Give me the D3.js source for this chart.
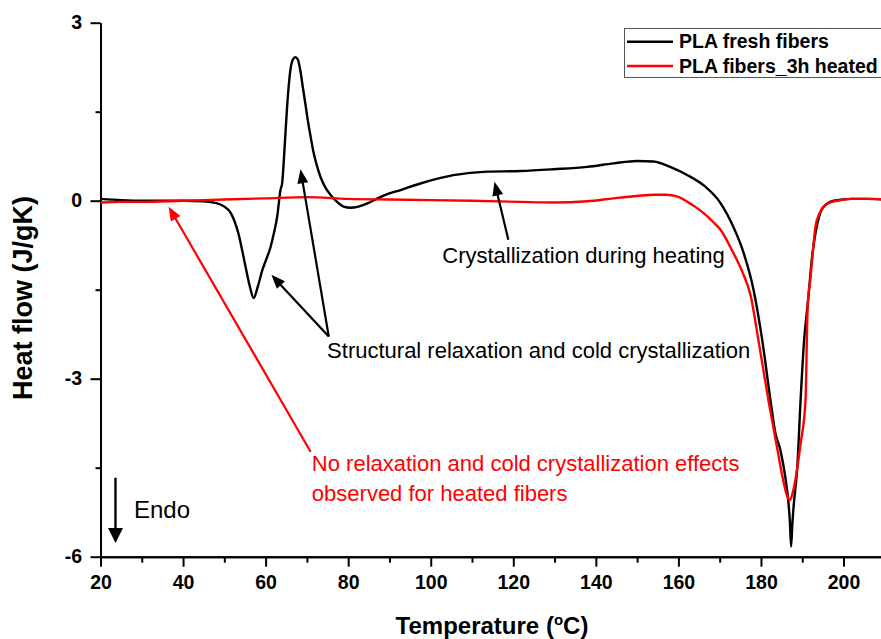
<!DOCTYPE html>
<html><head><meta charset="utf-8">
<script src="https://cdn.jsdelivr.net/npm/d3@7"></script>
<style>
body{margin:0;background:#fff}
svg{display:block}
text{font-family:"Liberation Sans",Arial,Helvetica,sans-serif}
</style>
</head><body>
<svg id="chart" width="881" height="639"></svg>
<script>
// ---------- data ----------
const seriesNames = ["PLA fresh fibers", "PLA fibers_3h heated"];
const seriesColors = ["#000000", "#ff0000"];

const freshT = [20, 25, 30, 35, 40, 45, 48, 50, 51.5, 53.4, 55.1, 56.2, 57.1, 58.1, 59.2, 60.2, 61.2, 62.0, 62.8, 63.6, 64.0, 64.6, 65.2, 66.0, 66.6, 67.2, 67.8, 68.4, 69.0, 69.7, 70.3, 70.9, 71.5, 72.3, 73.3, 74.5, 75.7, 77.0, 78.9, 80.6, 82.5, 84.5, 86.0, 89, 92.7, 97.5, 105.5, 113.7, 121.7, 129.7, 137.9, 144.3, 150, 154, 158, 162.2, 166.1, 170.2, 173.3, 175.8, 178.2, 180.2, 182.3, 183.5, 184.7, 185.9, 186.6, 187.0, 187.3, 187.6, 187.9, 188.8, 189.6, 190.4, 191.5, 192.3, 193.2, 194.4, 195.8, 197.6, 202, 206, 210];
const freshV = [0.03, 0.01, 0.0, 0.0, 0.0, -0.01, -0.04, -0.1, -0.2, -0.55, -1.1, -1.45, -1.64, -1.45, -1.17, -0.98, -0.78, -0.55, -0.27, 0.18, 0.29, 0.9, 1.58, 2.2, 2.38, 2.42, 2.38, 2.2, 1.92, 1.6, 1.32, 1.08, 0.85, 0.62, 0.4, 0.22, 0.1, 0.0, -0.1, -0.12, -0.1, -0.05, 0.0, 0.1, 0.18, 0.29, 0.43, 0.49, 0.5, 0.53, 0.57, 0.63, 0.67, 0.66, 0.57, 0.43, 0.26, -0.04, -0.44, -0.88, -1.5, -2.3, -3.36, -3.92, -4.2, -4.66, -5.05, -5.4, -5.83, -5.45, -5.16, -4.49, -3.36, -2.4, -1.62, -1.0, -0.55, -0.2, -0.06, 0.0, 0.03, 0.03, 0.02];

const heatedT = [20, 25, 30, 40, 50, 60, 70, 80, 90, 100, 110, 121.7, 130, 137.9, 144.3, 150, 154, 157, 159.8, 162.2, 164, 166.1, 168, 170.2, 173.3, 175.5, 177.5, 179.5, 181.8, 184, 185.5, 186.3, 186.9, 187.5, 188.2, 189.6, 190.8, 191.3, 192.0, 193.2, 194.2, 196.3, 199.4, 202, 206, 210];
const heatedV = [-0.03, -0.02, -0.02, 0.0, 0.02, 0.04, 0.06, 0.03, 0.02, 0.01, 0.0, -0.02, -0.03, -0.01, 0.04, 0.08, 0.1, 0.1, 0.07, -0.02, -0.1, -0.21, -0.33, -0.49, -0.88, -1.2, -1.6, -2.4, -3.36, -4.2, -4.75, -4.97, -5.05, -4.97, -4.76, -4.1, -3.36, -1.8, -1.3, -0.44, -0.21, -0.04, 0.01, 0.03, 0.03, 0.02];

const xMajorTicks = [20, 40, 60, 80, 100, 120, 140, 160, 180, 200];
const xMinorTicks = [30, 50, 70, 90, 110, 130, 150, 170, 190];
const yMajorTicks = [-6, -3, 0, 3];
const yMinorTicks = [-4.5, -1.5, 1.5];

const xTitle = "Temperature (";
const yTitle = "Heat flow (J/gK)";

// annotation texts (data-space anchors)
const noteTexts = [
  {text: "Crystallization during heating", t: 102.8, v: -1.05, color: "#000"},
  {text: "Structural relaxation and cold crystallization", t: 74.9, v: -2.65, color: "#000"},
  {text: "No relaxation and cold crystallization effects", t: 71.2, v: -4.55, color: "#ff0000"},
  {text: "observed for heated fibers", t: 71.2, v: -5.06, color: "#ff0000"}
];
// arrows: from (t0,v0) to head (t1,v1)
const noteArrows = [
  {t0: 75.3, v0: -2.29, t1: 61.4, v1: -1.25, color: "#000"},
  {t0: 75.3, v0: -2.29, t1: 68.45, v1: 0.53, color: "#000"},
  {t0: 118.8, v0: -0.66, t1: 115.45, v1: 0.32, color: "#000"},
  {t0: 70.9, v0: -4.23, t1: 36.5, v1: -0.10, color: "#ff0000"}
];
const endoArrow = {t: 23.63, v0: -4.67, v1: -5.77};
const endoText = {text: "Endo", t: 28.1, v: -5.35};

// ---------- drawing ----------
const svg = d3.select("#chart");
svg.append("rect").attr("width", 881).attr("height", 639).attr("fill", "#ffffff");

const x = d3.scaleLinear().domain([20, 210]).range([100.5, 884.8]);
const y = d3.scaleLinear().domain([-6, 3]).range([556.7, 22.7]);

const fmt = d => String(d);

// Y axis
const yAxis = svg.append("g").attr("transform", `translate(${x(20)},0)`);
yAxis.call(d3.axisLeft(y).tickValues(yMajorTicks).tickSize(10).tickSizeOuter(0).tickFormat(fmt));
yAxis.append("g").call(d3.axisLeft(y).tickValues(yMinorTicks).tickSize(5).tickSizeOuter(0).tickFormat(""));
yAxis.selectAll(".domain").attr("stroke-width", 2).attr("stroke", "#000");
yAxis.selectAll(".tick line").attr("stroke-width", 2).attr("stroke", "#000");
yAxis.selectAll(".tick text")
  .style("font-size", "19.5px").style("font-weight", "bold")
  .style("font-family", "'Liberation Sans',Arial,sans-serif")
  .attr("fill", "#000").attr("x", -18.5);

// X axis
const xAxis = svg.append("g").attr("transform", `translate(0,${y(-6)})`);
xAxis.call(d3.axisBottom(x).tickValues(xMajorTicks).tickSize(10).tickSizeOuter(0).tickFormat(fmt));
xAxis.append("g").call(d3.axisBottom(x).tickValues(xMinorTicks).tickSize(6).tickSizeOuter(0).tickFormat(""));
xAxis.selectAll(".domain").attr("stroke-width", 2).attr("stroke", "#000");
xAxis.selectAll(".tick line").attr("stroke-width", 2).attr("stroke", "#000");
xAxis.selectAll(".tick text")
  .style("font-size", "19.5px").style("font-weight", "bold")
  .style("font-family", "'Liberation Sans',Arial,sans-serif")
  .attr("fill", "#000").attr("y", 18);

// Curves
const line = d3.line().x(d => x(d[0])).y(d => y(d[1])).curve(d3.curveMonotoneX);
const series = [d3.zip(freshT, freshV), d3.zip(heatedT, heatedV)];
const plot = svg.append("g");
series.forEach((s, i) => {
  plot.append("path").datum(s).attr("d", line)
    .attr("fill", "none").attr("stroke", seriesColors[i]).attr("stroke-width", 2.4)
    .attr("stroke-linejoin", "round");
});

// Arrows
function arrow(g, x0, y0, x1, y1, color, headLen, headW, sw) {
  const dx = x1 - x0, dy = y1 - y0, L = Math.hypot(dx, dy);
  const ux = dx / L, uy = dy / L;
  const bx = x1 - ux * headLen, by = y1 - uy * headLen;
  g.append("line").attr("x1", x0).attr("y1", y0).attr("x2", bx + ux * 2).attr("y2", by + uy * 2)
    .attr("stroke", color).attr("stroke-width", sw);
  g.append("path")
    .attr("d", `M${x1},${y1}L${bx - uy * headW / 2},${by + ux * headW / 2}L${bx + uy * headW / 2},${by - ux * headW / 2}Z`)
    .attr("fill", color);
}
const ann = svg.append("g");
noteArrows.forEach(a => arrow(ann, x(a.t0), y(a.v0), x(a.t1), y(a.v1), a.color, 14, 11, 2.2));
arrow(ann, x(endoArrow.t), y(endoArrow.v0), x(endoArrow.t), y(endoArrow.v1), "#000", 15, 15, 2.4);

noteTexts.forEach(n => {
  ann.append("text").attr("x", x(n.t)).attr("y", y(n.v)).attr("fill", n.color)
    .style("font-size", "22px").text(n.text);
});
ann.append("text").attr("x", x(endoText.t)).attr("y", y(endoText.v)).style("font-size", "24px").text(endoText.text);

// Axis titles
const xt = svg.append("text").attr("x", 492).attr("y", 634).attr("text-anchor", "middle")
  .style("font-size", "24px").style("font-weight", "bold");
xt.append("tspan").text(xTitle);
xt.append("tspan").attr("dy", -9).style("font-size", "15px").text("o");
xt.append("tspan").attr("dy", 9).text("C)");

svg.append("text").attr("transform", "translate(32,298) rotate(-90)").attr("text-anchor", "middle")
  .style("font-size", "27px").style("font-weight", "bold").text(yTitle);

// Legend
const lg = svg.append("g");
lg.append("rect").attr("x", 624.5).attr("y", 28.5).attr("width", 270).attr("height", 49)
  .attr("fill", "#fff").attr("stroke", "#555").attr("stroke-width", 1);
seriesNames.forEach((n, i) => {
  const yy = 41.7 + i * 24.3;
  lg.append("line").attr("x1", 627).attr("x2", 673).attr("y1", yy).attr("y2", yy)
    .attr("stroke", seriesColors[i]).attr("stroke-width", 2.4);
  lg.append("text").attr("x", 679).attr("y", yy + 6.5).style("font-size", "19.5px").style("font-weight", "bold").text(n);
});
</script>
</body></html>
